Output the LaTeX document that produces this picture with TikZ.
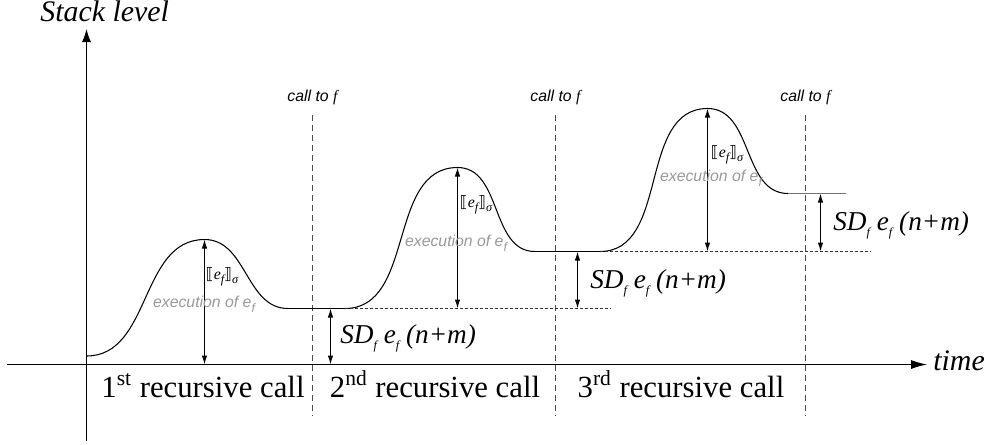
\documentclass[tikz,border=0pt]{standalone}
\usepackage{fontspec}
\setmainfont{Liberation Serif}
\setsansfont{Liberation Sans}
\newfontfamily\bracketfont{DejaVu Sans}
\usetikzlibrary{arrows.meta, calc}

\newcommand{\lowsub}[1]{\raisebox{-0.55ex}{\scriptsize\itshape #1}}
\newcommand{\semof}{{\bracketfont ⟦}\textit{e}\lowsub{f}{\bracketfont ⟧}\lowsub{σ}}
\newcommand{\sdterm}{\textit{SD}\lowsub{f}\ \textit{e}\lowsub{f}\ \textit{(n+m)}}

\begin{document}
\begin{tikzpicture}[
    x=0.02cm, y=-0.02cm,
    >= {Latex[length=1.8mm, width=1.1mm]},
    curve/.style={line width=0.6pt},
    axis/.style={line width=0.6pt},
    measure/.style={line width=0.6pt, <->},
    level/.style={line width=0.5pt, black!80, dash pattern=on 0.6mm off 0.4mm},
    callline/.style={line width=0.6pt, black!70, dash pattern=on 1.2mm off 0.8mm},
    axislabel/.style={font=\fontsize{17}{20}\selectfont\itshape, inner sep=0pt},
    reclabel/.style={font=\fontsize{17.5}{21}\selectfont, inner sep=0pt},
    sdlabel/.style={font=\fontsize{15.5}{18}\selectfont, inner sep=0pt},
    calllabel/.style={font=\fontsize{9}{11}\selectfont\sffamily\itshape, inner sep=0pt},
    semlabel/.style={font=\fontsize{9}{10}\selectfont, inner sep=0pt},
    execlabel/.style={font=\fontsize{9}{10}\selectfont\sffamily\itshape, text=black!40, inner sep=0pt},
    ]

    \useasboundingbox (0,0) rectangle (990,444);

    % Draw one rise and fall of the stack
    % Parameters: ID, X_start, Y_start, X_peak, Y_peak, X_return, Y_return, Y_base
    \newcommand{\stackhump}[8]{
        \coordinate (start-#1) at (#2,#3);
        \coordinate (peak-#1) at (#4,#5);
        \coordinate (ret-#1) at (#6,#7);
        \coordinate (base-#1) at (#4,#8);
        \draw[curve] (start-#1) to[out=0, in=180] (peak-#1) to[out=0, in=180] (ret-#1);
        \draw[measure] (peak-#1) -- (base-#1);
    }

    % ==========================================
    % Axes
    % ==========================================
    \coordinate (ybot) at (86.5,441);
    \coordinate (ytop) at (86.5,29);
    \coordinate (xleft) at (7,364.5);
    \coordinate (xright) at (927,364.5);
    \draw[axis, -{Latex[length=2.6mm, width=1.8mm]}] (ybot) -- (ytop);
    \draw[axis, -{Latex[length=3.2mm, width=1.8mm]}] (xleft) -- (xright);
    \node[axislabel, anchor=base west] (ylabel) at (40,21) {Stack level};
    \node[axislabel, anchor=base west] (xlabel) at (933,370) {time};

    % ==========================================
    % Calls to f
    % ==========================================
    \foreach \id/\x in {1/312.5, 2/555.5, 3/805.5} {
        \coordinate (calltop-\id) at (\x,115);
        \coordinate (callbot-\id) at (\x,415);
        \draw[callline] (calltop-\id) -- (callbot-\id);
        \node[calllabel] (call-\id) at (\x,97) {call to {\rmfamily f}};
    }

    % ==========================================
    % Stack curve
    % ==========================================
    \stackhump{1}{86.5}{356}{204.5}{239.5}{288}{308.5}{364.5}
    \stackhump{2}{345}{308.5}{457.5}{167.5}{535}{251.5}{308.5}
    \stackhump{3}{600}{251.5}{707.5}{108.5}{788}{193.5}{251.5}

    \coordinate (tail) at (846,193.5);
    \draw[curve] (ret-1) -- (start-2);
    \draw[curve] (ret-2) -- (start-3);
    \draw[curve, black!55] (ret-3) -- (tail);

    % dashed levels reached after each call
    \coordinate (level-1) at (610,308.5);
    \coordinate (level-2) at (870,251.5);
    \draw[level] (start-2) -- (level-1);
    \draw[level] (start-3) -- (level-2);

    \foreach \id/\sx/\sy/\ex/\ey in {1/222/277/204/304, 2/476/205/456/243, 3/727/155/711/178} {
        \node[semlabel] (sem-\id) at (\sx,\sy) {\semof};
        \node[execlabel] (exec-\id) at (\ex,\ey) {execution of e\lowsub{f}};
    }

    % ==========================================
    % Stack depth of each call
    % ==========================================
    \foreach \id/\x/\top/\bot/\lx/\ly in {1/330.5/308.5/364.5/340/343, 2/577.5/251.5/308.5/590/288, 3/820.5/193.5/251.5/833/230} {
        \coordinate (sdtop-\id) at (\x,\top);
        \coordinate (sdbot-\id) at (\x,\bot);
        \draw[measure] (sdtop-\id) -- (sdbot-\id);
        \node[sdlabel, anchor=base west] (sd-\id) at (\lx,\ly) {\sdterm};
    }

    % ==========================================
    % Recursive calls
    % ==========================================
    \foreach \id/\x/\suffix in {1/203/st, 2/435/nd, 3/681/rd} {
        \node[reclabel, anchor=base] (rec-\id) at (\x,397) {\id\textsuperscript{\suffix} recursive call};
    }

\end{tikzpicture}
\end{document}
